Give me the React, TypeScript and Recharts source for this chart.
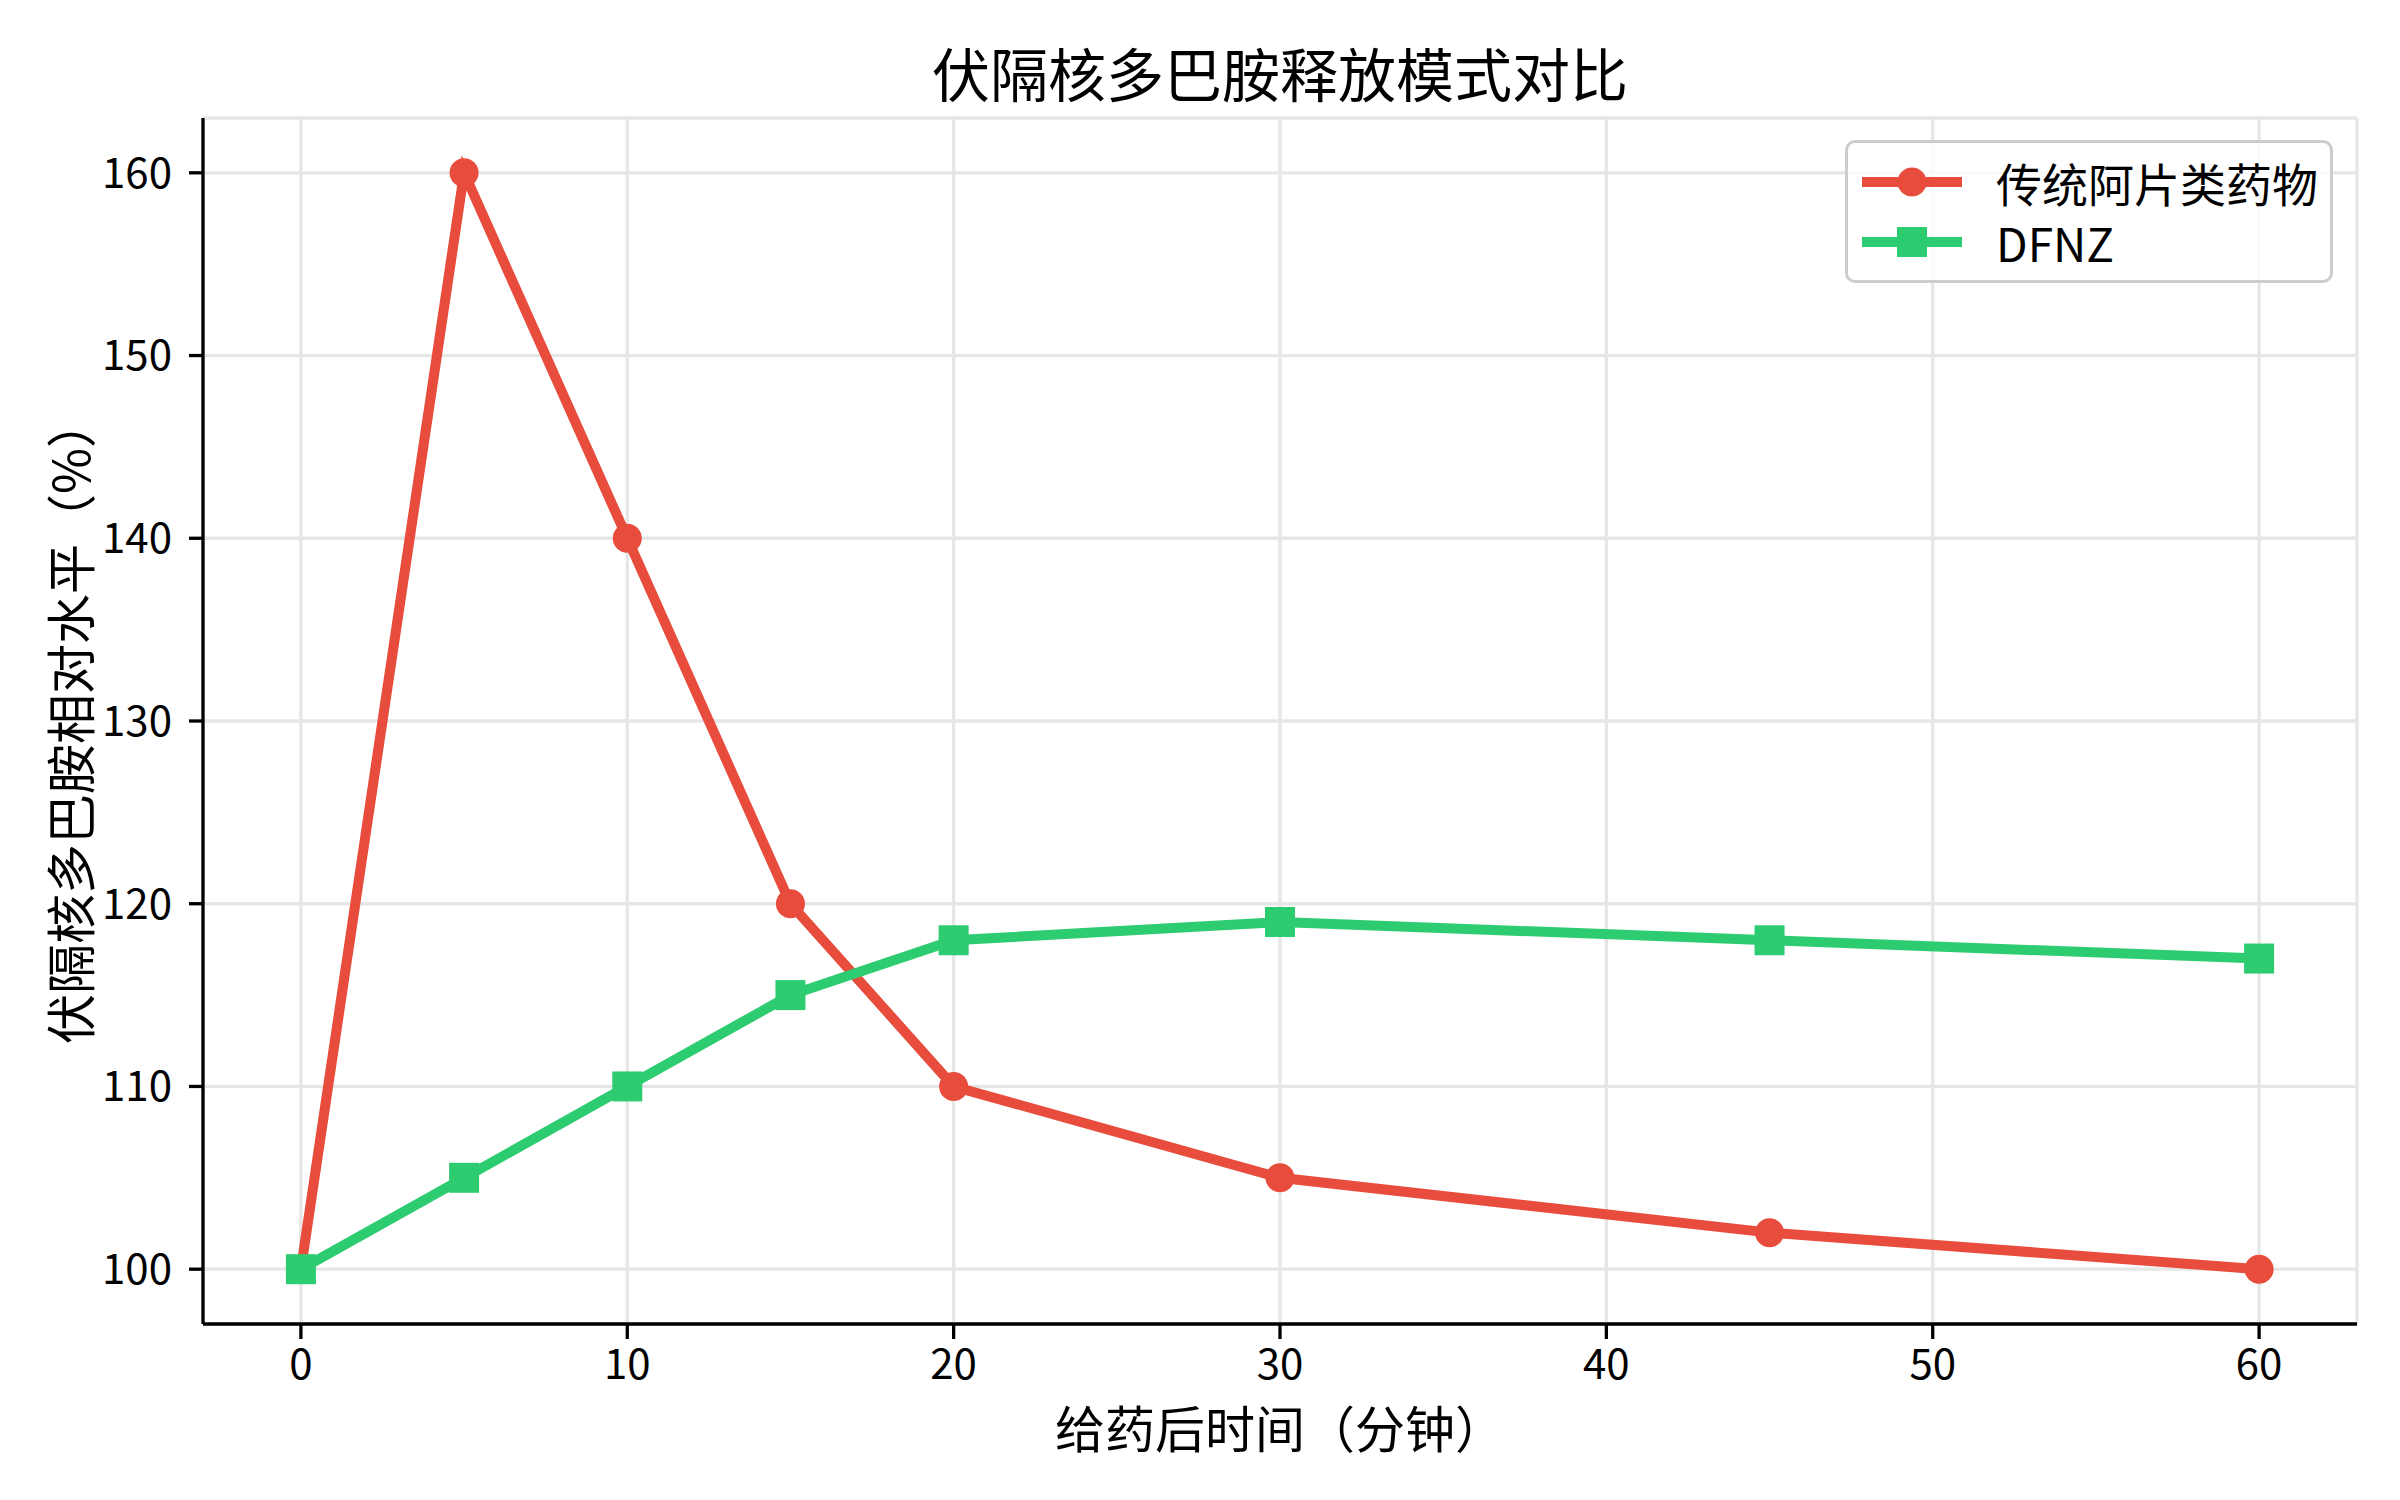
import React from "react";
import {
  LineChart,
  Line,
  XAxis,
  YAxis,
  CartesianGrid,
  Legend,
  Label,
} from "recharts";

const FONT = '"Noto Sans CJK SC", "Noto Sans", sans-serif';

// minutes after dosing
const times = [0, 5, 10, 15, 20, 30, 45, 60];
// relative dopamine level (%)
const opioidLevels = [100, 160, 140, 120, 110, 105, 102, 100];
const dfnzLevels = [100, 105, 110, 115, 118, 119, 118, 117];

const xTicks = [0, 10, 20, 30, 40, 50, 60];
const yTicks = [100, 110, 120, 130, 140, 150, 160];

const legendOrder = ["opioid", "dfnz"];

const RED = "#e74c3c";
const GREEN = "#2ecc71";

const chartData = times.map((t, i) => ({
  time: t,
  opioid: opioidLevels[i],
  dfnz: dfnzLevels[i],
}));

function SquareDot(props: any) {
  const { cx, cy } = props;
  if (cx == null || cy == null) return null;
  return <rect x={cx - 15} y={cy - 15} width={30} height={30} fill={GREEN} />;
}

function LegendBox({ payload }: any) {
  const items = [...(payload || [])].sort(
    (a: any, b: any) =>
      legendOrder.indexOf(a.dataKey) - legendOrder.indexOf(b.dataKey)
  );
  return (
    <div
      style={{
        width: 488,
        height: 143,
        boxSizing: "border-box",
        border: "3px solid #cccccc",
        borderRadius: 10,
        background: "rgba(255,255,255,0.8)",
        position: "relative",
      }}
    >
      {items.map((item: any, i: number) => {
        const isCircle = item.dataKey === "opioid";
        return (
          <div
            key={item.value}
            style={{
              position: "absolute",
              left: 12,
              top: 9 + i * 60,
              height: 60,
              display: "flex",
              alignItems: "center",
            }}
          >
            <svg width={104} height={60}>
              <line
                x1={2}
                x2={102}
                y1={30}
                y2={30}
                stroke={item.color}
                strokeWidth={10}
              />
              {isCircle ? (
                <circle cx={52} cy={30} r={14.5} fill={item.color} />
              ) : (
                <rect x={37} y={15} width={30} height={30} fill={item.color} />
              )}
            </svg>
            <span
              style={{
                marginLeft: 32,
                fontSize: 46,
                fontFamily: FONT,
                color: "#000",
                lineHeight: "46px",
              }}
            >
              {item.value}
            </span>
          </div>
        );
      })}
    </div>
  );
}

export default function App() {
  const tickStyle = { fill: "#000", fontSize: 42, fontFamily: FONT };
  const lineStyle = { stroke: "#000", strokeWidth: 3.3 };
  return (
    <div
      style={{
        position: "absolute",
        left: 0,
        top: 0,
        width: 2400,
        height: 1500,
        background: "#fff",
      }}
    >
      <div
        style={{
          position: "absolute",
          left: 203,
          width: 2154,
          top: 43,
          textAlign: "center",
          fontSize: 58,
          lineHeight: "58px",
          fontFamily: FONT,
          color: "#000",
        }}
      >
        伏隔核多巴胺释放模式对比
      </div>
      <LineChart
        width={2400}
        height={1500}
        data={chartData}
        margin={{ top: 118, right: 43, bottom: 0, left: 0 }}
      >
        <CartesianGrid stroke="#e6e6e6" strokeWidth={3.3} />
        <XAxis
          dataKey="time"
          type="number"
          domain={[-3, 63]}
          ticks={xTicks}
          height={176}
          tick={tickStyle}
          tickLine={lineStyle}
          axisLine={lineStyle}
          tickSize={15}
          tickMargin={10}
        >
          <Label
            value="给药后时间（分钟）"
            position="insideBottom"
            offset={52}
            style={{ fontSize: 50, fontFamily: FONT, fill: "#000" }}
          />
        </XAxis>
        <XAxis
          xAxisId="top"
          orientation="top"
          type="number"
          domain={[-3, 63]}
          height={0}
          tick={false}
          tickLine={false}
          axisLine={lineStyle}
        />
        <YAxis
          type="number"
          domain={[97, 163]}
          ticks={yTicks}
          width={203}
          tick={tickStyle}
          tickLine={lineStyle}
          axisLine={lineStyle}
          tickSize={14}
          tickMargin={17}
        >
          <Label
            value="伏隔核多巴胺相对水平（%）"
            position="insideLeft"
            angle={-90}
            offset={72}
            style={{
              fontSize: 50,
              fontFamily: FONT,
              fill: "#000",
              textAnchor: "middle",
            }}
          />
        </YAxis>
        <YAxis
          yAxisId="right"
          orientation="right"
          type="number"
          domain={[97, 163]}
          width={0}
          tick={false}
          tickLine={false}
          axisLine={lineStyle}
        />
        <Legend
          layout="vertical"
          align="center"
          verticalAlign="middle"
          content={<LegendBox />}
          wrapperStyle={{ position: "absolute", left: 1845, top: 140, width: 488 }}
        />
        <Line
          type="linear"
          dataKey="opioid"
          name="传统阿片类药物"
          stroke={RED}
          strokeWidth={10}
          dot={{ r: 14.5, fill: RED, stroke: "none" }}
          activeDot={false}
          isAnimationActive={false}
        />
        <Line
          type="linear"
          dataKey="dfnz"
          name="DFNZ"
          stroke={GREEN}
          strokeWidth={10}
          dot={<SquareDot />}
          activeDot={false}
          isAnimationActive={false}
        />
      </LineChart>
    </div>
  );
}
